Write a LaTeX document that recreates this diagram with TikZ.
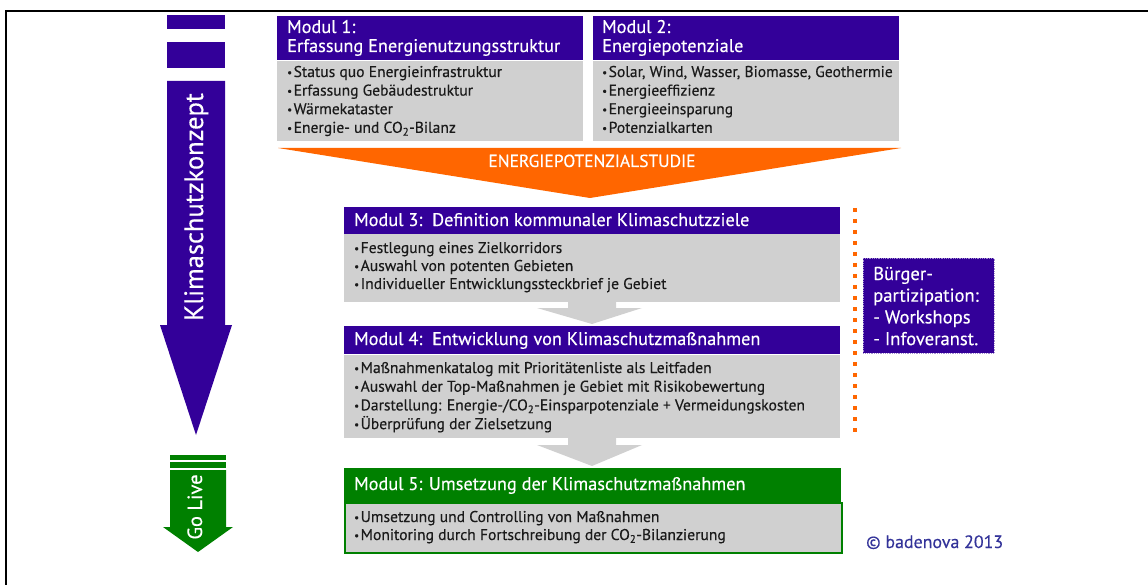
\documentclass[tikz,border=0pt]{standalone}
\usepackage{fontspec}
\setmainfont{PT Sans}[FakeBold=0.35]
\definecolor{lila}{HTML}{330099}
\definecolor{hellgrau}{HTML}{D0D0D0}
\definecolor{signalorange}{HTML}{FF6600}
\definecolor{gruen}{HTML}{008000}
\definecolor{copyblau}{HTML}{333399}
\definecolor{schrift}{HTML}{1A1A1A}
\newcommand{\pkt}{\raisebox{0.8pt}{\fontsize{11}{11}\selectfont•}\kern1.5pt}
\tikzset{
  kopf/.style={fill=lila,inner sep=0pt,anchor=north west},
  koerper/.style={fill=hellgrau,inner sep=0pt,anchor=north west},
  titel/.style={anchor=base west,inner sep=0pt,text=white,font=\fontsize{18.3}{21}\selectfont},
  punkt/.style={anchor=base west,inner sep=0pt,text=schrift,font=\fontsize{15.6}{18}\selectfont},
}

\begin{document}
\begin{tikzpicture}[x=1pt,y=-1pt]
\useasboundingbox (0,0) rectangle (1148,585);
\draw[line width=2.4pt] (6,585) -- (6,11) -- (1148,11);
% Zeitachse links
\fill[lila] (167,15) rectangle (225,29);
\fill[lila] (167,42) rectangle (225,68);
\fill[lila] (167,81) -- (225,81) -- (225,325) -- (232,325) -- (196,435) -- (160,325) -- (167,325) -- cycle;
\node[rotate=90,anchor=base,inner sep=0pt,text=white,font=\fontsize{26.5}{30}\selectfont] (konzept) at (203,207) {Klimaschutzkonzept};
\fill[gruen] (170,455) rectangle (226,460);
\fill[gruen] (170,462) rectangle (226,468);
\fill[gruen] (170,470) -- (226,470) -- (226,527) -- (233,527) -- (198,552) -- (163,527) -- (170,527) -- cycle;
\node[rotate=90,anchor=base,inner sep=0pt,text=white,font=\fontsize{20.5}{24}\selectfont] (golive) at (202,507) {Go Live};
% Modul 1 und 2
\node[kopf,minimum width=306pt,minimum height=44pt] (m1kopf) at (277,16) {};
\node[koerper,minimum width=306pt,minimum height=80pt] (m1koerper) at (m1kopf.south west) {};
\node[titel] (m1t1) at (287,33) {Modul 1:};
\node[titel] (m1t2) at (287,52) {Erfassung Energienutzungsstruktur};
\foreach \i/\t in {0/Status quo Energieinfrastruktur,1/Erfassung Gebäudestruktur,2/Wärmekataster,3/Energie- und CO\textsubscript{2}-Bilanz}
  \node[punkt] (m1p\i) at ({287},{77+18.6*\i}) {\pkt\t};
\node[kopf,minimum width=306pt,minimum height=44pt] (m2kopf) at (593,16) {};
\node[koerper,minimum width=306pt,minimum height=80pt] (m2koerper) at (m2kopf.south west) {};
\node[titel] (m2t1) at (602,33) {Modul 2:};
\node[titel] (m2t2) at (602,52) {Energiepotenziale};
\foreach \i/\t in {0/{Solar, Wind, Wasser, Biomasse, Geothermie},1/Energieeffizienz,2/Energieeinsparung,3/Potenzialkarten}
  \node[punkt] (m2p\i) at ({602},{77+18.6*\i}) {\pkt\t};
% Potenzialstudie
\fill[signalorange] (278,148) -- (901,148) -- (590,198) -- cycle;
\node[anchor=base,inner sep=0pt,text=white,font=\fontsize{17.5}{20}\selectfont] (studie) at (592,167) {ENERGIEPOTENZIALSTUDIE};
% Modul 3
\node[kopf,minimum width=496pt,minimum height=26.5pt] (m3kopf) at (344,207) {};
\node[koerper,minimum width=496pt,minimum height=68pt] (m3koerper) at (m3kopf.south west) {};
\node[titel] (m3t) at (354,226) {Modul 3:\ \ Definition kommunaler Klimaschutzziele};
\foreach \i/\t in {0/Festlegung eines Zielkorridors,1/Auswahl von potenten Gebieten,2/Individueller Entwicklungssteckbrief je Gebiet}
  \node[punkt] (m3p\i) at ({354},{253+18*\i}) {\pkt\t};
\fill[hellgrau] (568,300) -- (616,300) -- (616,308) -- (642,308) -- (592,324) -- (537,308) -- (568,308) -- cycle;
% Modul 4
\node[kopf,minimum width=496pt,minimum height=28pt] (m4kopf) at (344,326) {};
\node[koerper,minimum width=496pt,minimum height=83pt] (m4koerper) at (m4kopf.south west) {};
\node[titel] (m4t) at (354,345) {Modul 4:\ \ Entwicklung von Klimaschutzmaßnahmen};
\foreach \i/\t in {0/Maßnahmenkatalog mit Prioritätenliste als Leitfaden,1/Auswahl der Top-Maßnahmen je Gebiet mit Risikobewertung,2/{Darstellung: Energie-/CO\textsubscript{2}-Einsparpotenziale + Vermeidungskosten},3/Überprüfung der Zielsetzung}
  \node[punkt] (m4p\i) at ({354},{373+18.7*\i}) {\pkt\t};
\fill[hellgrau] (568,436) -- (616,436) -- (616,445) -- (642,445) -- (592,466) -- (537,445) -- (568,445) -- cycle;
% Modul 5
\node[kopf,fill=gruen,minimum width=497pt,minimum height=34pt] (m5kopf) at (344,468) {};
\node[koerper,draw=gruen,line width=1.5pt,minimum width=497pt,minimum height=50pt] (m5koerper) at (m5kopf.south west) {};
\node[titel] (m5t) at (354,490) {Modul 5: Umsetzung der Klimaschutzmaßnahmen};
\foreach \i/\t in {0/Umsetzung und Controlling von Maßnahmen,1/Monitoring durch Fortschreibung der CO\textsubscript{2}-Bilanzierung}
  \node[punkt] (m5p\i) at ({354},{522+18*\i}) {\pkt\t};
% Buergerbeteiligung
\coordinate (trenn1) at (855,208);
\coordinate (trenn2) at (855,433);
\draw[signalorange,line width=4pt,dash pattern=on 4pt off 7pt] (trenn1) -- (trenn2);
\node[fill=lila,draw=lila!45!white,densely dotted,line width=.8pt,anchor=north west,minimum width=131pt,minimum height=95pt,inner sep=0pt] (buerger) at (863,258) {};
\foreach \i/\t in {0/Bürger-,1/partizipation:,2/- Workshops,3/- Infoveranst.}
  \node[titel,font=\fontsize{18.6}{21}\selectfont] (bp\i) at ({873},{280+21.7*\i}) {\t};
\node[anchor=base west,inner sep=0pt,text=copyblau,font=\fontsize{17.9}{20}\selectfont] (copy) at (866,548) {© badenova 2013};
\end{tikzpicture}
\end{document}
